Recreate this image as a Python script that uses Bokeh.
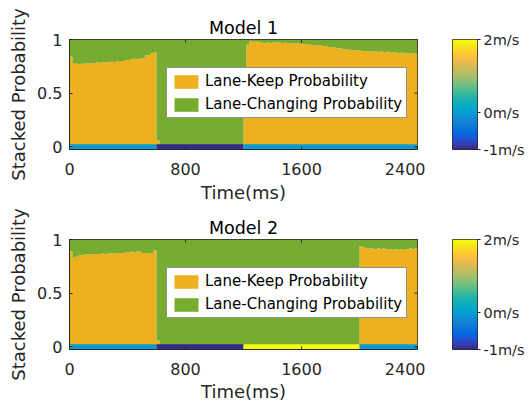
import numpy as np
from bokeh.plotting import figure
from bokeh.models import Range1d, FixedTicker, LinearColorMapper, ColumnDataSource
from bokeh.layouts import column, row
from bokeh.transform import linear_cmap
from bokeh.embed import file_html
from bokeh.resources import INLINE

# ---------------- data ----------------
time_ms = list(range(0, 2400, 20))          # start of each 20 ms step
end_time = 2400

keep_model1 = [
    0.84, 0.78, 0.775, 0.772, 0.775, 0.778, 0.776, 0.782, 0.78, 0.785,
    0.783, 0.788, 0.79, 0.787, 0.792, 0.79, 0.795, 0.793, 0.80, 0.81,
    0.808, 0.815, 0.82, 0.818, 0.822, 0.825, 0.85, 0.855, 0.872, 0.88,
    0.06,
    0, 0, 0, 0, 0, 0, 0, 0, 0, 0,
    0, 0, 0, 0, 0, 0, 0, 0, 0, 0,
    0, 0, 0, 0, 0, 0, 0, 0, 0,
    0.55, 0.95,
    0.985, 0.98, 0.985, 0.975, 0.97, 0.965, 0.972, 0.968, 0.975, 0.97,
    0.972, 0.968, 0.97, 0.965, 0.968, 0.962, 0.965, 0.96, 0.955, 0.957,
    0.952, 0.95, 0.948, 0.945, 0.946, 0.94, 0.935, 0.93, 0.928, 0.925,
    0.918, 0.915, 0.91, 0.908, 0.905, 0.902, 0.90, 0.898, 0.895, 0.893,
    0.89, 0.892, 0.888, 0.89, 0.886, 0.888, 0.884, 0.885, 0.88, 0.878,
    0.88, 0.875, 0.877, 0.872, 0.874, 0.87, 0.872, 0.868,
]

keep_model2 = [
    0.89, 0.83, 0.84, 0.85, 0.855, 0.86, 0.86, 0.865, 0.86, 0.865,
    0.865, 0.87, 0.865, 0.87, 0.87, 0.875, 0.87, 0.875, 0.875, 0.88,
    0.88, 0.885, 0.88, 0.89, 0.885, 0.875, 0.87, 0.87, 0.875, 0.90,
    0.06,
    0, 0, 0, 0, 0, 0, 0, 0, 0, 0,
    0, 0, 0, 0, 0, 0, 0, 0, 0, 0,
    0, 0, 0, 0, 0, 0, 0, 0, 0, 0,
    0, 0, 0, 0, 0, 0, 0, 0, 0, 0,
    0, 0, 0, 0, 0, 0, 0, 0, 0, 0,
    0, 0, 0, 0, 0, 0, 0, 0, 0, 0,
    0, 0, 0, 0, 0, 0, 0, 0, 0,
    0.94, 0.925, 0.92, 0.915, 0.915, 0.91, 0.915, 0.91, 0.915, 0.91,
    0.91, 0.905, 0.91, 0.905, 0.91, 0.905, 0.91, 0.915, 0.91, 0.92,
]

speed_start_1 = [0, 600, 1200]
speed_end_1 = [600, 1200, 2400]
speed_1 = [0, -1, 0]

speed_start_2 = [0, 600, 1200, 2000]
speed_end_2 = [600, 1200, 2000, 2400]
speed_2 = [0, -1, 2, 0]

titles = ["Model 1", "Model 2"]
x_ticks = [0, 800, 1600, 2400]
y_ticks = [0, 0.5, 1]
y_tick_labels = ["0", "0.5", "1"]
cbar_ticks = [-1, 0, 2]
cbar_tick_labels = ["-1m/s", "0m/s", "2m/s"]
legend_labels = ["Lane-Keep Probability", "Lane-Changing Probability"]

# ---------------- style ----------------
FONT = "DejaVu Sans"
AX = "#262626"
ORANGE = "#EDB120"
GREEN = "#77AC30"
BAND_LO, BAND_HI = -0.025, 0.025
FRAME_W, FRAME_H = 348, 110
LEFT_B, RIGHT_B = 69, 8
TICK_PX = 3

parula_rows = [
    (0.2081, 0.1663, 0.5292), (0.2081, 0.2386, 0.6771), (0.1253, 0.3242, 0.8303),
    (0.0060, 0.4086, 0.8828), (0.0498, 0.4586, 0.8641), (0.0779, 0.5040, 0.8384),
    (0.0641, 0.5570, 0.8240), (0.0265, 0.6137, 0.8135), (0.0228, 0.6535, 0.7768),
    (0.0590, 0.6838, 0.7254), (0.1453, 0.7098, 0.6646), (0.2586, 0.7317, 0.5954),
    (0.3953, 0.7459, 0.5244), (0.5300, 0.7491, 0.4661), (0.6473, 0.7456, 0.4188),
    (0.7525, 0.7384, 0.3768), (0.8507, 0.7299, 0.3360), (0.9450, 0.7261, 0.2886),
    (0.9990, 0.7653, 0.2164), (0.9789, 0.8271, 0.1633), (0.9599, 0.9218, 0.0948),
    (0.9763, 0.9831, 0.0538),
]
_pr = np.array(parula_rows)
_pos = np.linspace(0, 1, len(parula_rows))
_t = np.linspace(0, 1, 256)
parula = ["#%02x%02x%02x" % tuple(int(round(np.interp(v, _pos, _pr[:, c]) * 255)) for c in range(3)) for v in _t]


def style_axis(ax, size="16px"):
    ax.major_label_text_font = FONT
    ax.major_label_text_font_size = size
    ax.major_label_text_color = AX
    ax.axis_label_text_font = FONT
    ax.axis_label_text_font_style = "normal"
    ax.axis_label_text_color = AX
    ax.axis_line_color = AX
    ax.major_tick_line_color = AX
    ax.minor_tick_line_color = None
    ax.major_tick_in = TICK_PX
    ax.major_tick_out = 0


def panel(title, keep, s_start, s_end, s_val, top_b, bot_b, tick_standoff, label_standoff):
    p = figure(width=LEFT_B + FRAME_W + RIGHT_B, height=top_b + FRAME_H + bot_b,
               x_range=Range1d(0, end_time), y_range=Range1d(BAND_LO, 1),
               min_border_left=LEFT_B, min_border_right=RIGHT_B,
               min_border_top=top_b, min_border_bottom=bot_b,
               output_backend="svg", toolbar_location=None, title=title)
    p.title.text_font = FONT
    p.title.text_font_size = "17.5px"
    p.title.text_font_style = "normal"
    p.title.text_color = "#000000"
    p.title.align = "center"
    p.title.standoff = 3
    p.grid.visible = False
    p.outline_line_color = AX
    p.background_fill_color = "white"
    p.border_fill_color = "white"

    xs = time_ms + [end_time]
    k = list(keep) + [keep[-1]]
    change = [1 - v for v in k]
    total = [a + b for a, b in zip(k, change)]
    src = ColumnDataSource(dict(x=xs, keep=k, total=total, zero=[0] * len(xs)))
    p.varea_step(x="x", y1="zero", y2="keep", step_mode="after", source=src,
                 fill_color=ORANGE, legend_label=legend_labels[0])
    p.varea_step(x="x", y1="keep", y2="total", step_mode="after", source=src,
                 fill_color=GREEN, legend_label=legend_labels[1])

    bsrc = ColumnDataSource(dict(left=s_start, right=s_end, speed=s_val))
    p.quad(left="left", right="right", bottom=BAND_LO, top=BAND_HI, source=bsrc,
           fill_color=linear_cmap("speed", parula, -1, 2), line_color=None)

    # box ticks on the top and right edges (MATLAB "box on")
    ty = TICK_PX * (1 - BAND_LO) / FRAME_H
    tx = TICK_PX * end_time / FRAME_W
    p.segment(x0=x_ticks, y0=[1] * len(x_ticks), x1=x_ticks, y1=[1 - ty] * len(x_ticks),
              line_color=AX, line_width=1)
    p.segment(x0=[end_time] * len(y_ticks), y0=y_ticks, x1=[end_time - tx] * len(y_ticks), y1=y_ticks,
              line_color=AX, line_width=1)

    p.xaxis.ticker = FixedTicker(ticks=x_ticks)
    p.yaxis.ticker = FixedTicker(ticks=y_ticks)
    p.yaxis.major_label_overrides = {t: l for t, l in zip(y_ticks, y_tick_labels)}
    p.xaxis.axis_label = "Time(ms)"
    p.yaxis.axis_label = "Stacked Probability"
    style_axis(p.xaxis[0])
    style_axis(p.yaxis[0])
    p.xaxis.axis_label_text_font_size = "18px"
    p.yaxis.axis_label_text_font_size = "18px"
    p.xaxis.major_label_standoff = tick_standoff
    p.xaxis.axis_label_standoff = label_standoff
    p.yaxis.major_label_standoff = 7
    p.yaxis.axis_label_standoff = 5

    lg = p.legend[0]
    lg.location = (97, 31)
    lg.label_text_font = FONT
    lg.label_text_font_size = "15px"
    lg.label_text_color = "#000000"
    lg.glyph_width = 30
    lg.glyph_height = 17
    lg.label_height = 17
    lg.label_standoff = 4
    lg.spacing = 5
    lg.padding = 4
    lg.margin = 0
    lg.border_line_color = AX
    lg.border_line_width = 1
    lg.background_fill_alpha = 1
    return p


def cbar(top_b, bot_b):
    left_b, fw, right_b = 27, 26, 49
    c = figure(width=left_b + fw + right_b, height=top_b + 111 + bot_b,
               x_range=Range1d(0, 1), y_range=Range1d(-1, 2),
               min_border_left=left_b, min_border_right=right_b,
               min_border_top=top_b, min_border_bottom=bot_b,
               output_backend="svg", toolbar_location=None, y_axis_location="right")
    c.xaxis.visible = False
    c.grid.visible = False
    c.outline_line_color = AX
    mapper = LinearColorMapper(palette=parula, low=-1, high=2)
    grad = np.linspace(-1, 2, 256).reshape(256, 1)
    c.image(image=[grad], x=0, y=-1, dw=1, dh=3, color_mapper=mapper)
    c.yaxis.ticker = FixedTicker(ticks=cbar_ticks)
    c.yaxis.major_label_overrides = {t: l for t, l in zip(cbar_ticks, cbar_tick_labels)}
    style_axis(c.yaxis[0], "14.5px")
    c.yaxis.major_tick_in = 0
    c.yaxis.major_tick_out = 3
    c.yaxis.major_label_standoff = 3
    c.yaxis.axis_line_color = None
    return c


# p1: frame 39..149 ; p2 frame 239..349
p1 = panel(titles[0], keep_model1, speed_start_1, speed_end_1, speed_1, 39, 59, 13, 4)
p2 = panel(titles[1], keep_model2, speed_start_2, speed_end_2, speed_2, 31, 56, 13, 3)
c1 = cbar(38, 59)
c2 = cbar(30, 56)

layout = column(row(p1, c1), row(p2, c2))
open("out.html", "w").write(file_html(layout, INLINE))
